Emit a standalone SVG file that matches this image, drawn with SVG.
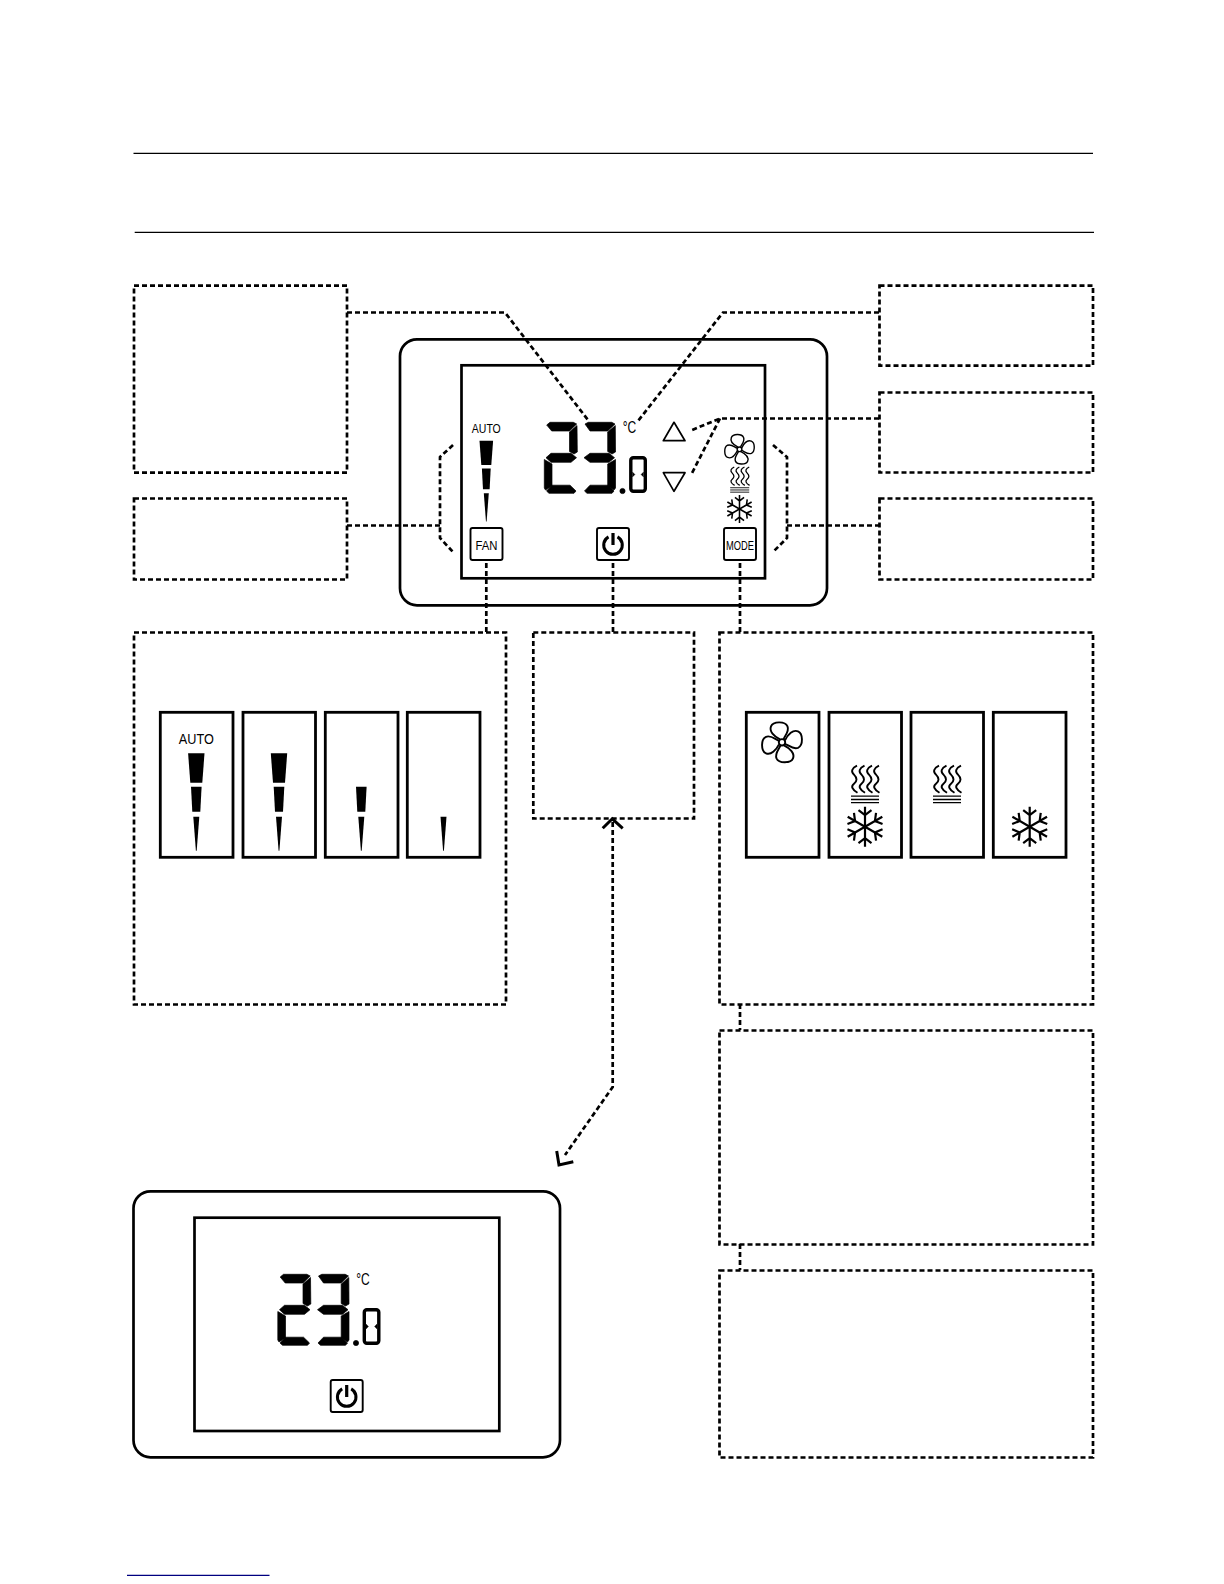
<svg xmlns="http://www.w3.org/2000/svg" width="1224" height="1584" viewBox="0 0 1224 1584">
<style>
.rule{stroke:#000;stroke-width:1.1;fill:none}
.box{fill:none;stroke:#000;stroke-width:2.7;stroke-dasharray:5 3}
.conn{fill:none;stroke:#000;stroke-width:2.7;stroke-dasharray:5 3}
.head{fill:none;stroke:#000;stroke-width:3}
.solid{fill:#fff;stroke:#000;stroke-width:2.7}
.panel{fill:#fff;stroke:#000;stroke-width:2.8}
.key{fill:#fff;stroke:#000;stroke-width:1.9}
.thin{fill:none;stroke:#000;stroke-width:1.7;stroke-linejoin:round}
.lbl{font-family:"Liberation Sans",Arial,sans-serif;fill:#000;text-anchor:middle}
</style>
<defs>
<g id="wedge3"><polygon points="-8.2,0 8.2,0 6,29.4 -6,29.4"/><polygon points="-5.3,33.4 5.3,33.4 4,58.4 -4,58.4"/><polygon points="-3,63.4 3,63.4 .4,97.4 -.4,97.4"/></g>
<g id="wedge2"><polygon points="-5.3,33.4 5.3,33.4 4,58.4 -4,58.4"/><polygon points="-3,63.4 3,63.4 .4,97.4 -.4,97.4"/></g>
<g id="wedge1"><polygon points="-3,63.4 3,63.4 .4,97.4 -.4,97.4"/></g>
<path id="blade" d="M-2,-3 C-8,-6 -13,-11 -11,-16 C-9,-21 3,-21.5 5.5,-16 C7.5,-11 3,-7 1.5,-3"/>
<g id="fan" fill="none" stroke="#000" stroke-width="1.9"><circle r="3.2"/><use href="#blade"/><use href="#blade" transform="rotate(90)"/><use href="#blade" transform="rotate(180)"/><use href="#blade" transform="rotate(270)"/></g>
<g id="heat" fill="none" stroke="#000" stroke-width="1.9"><path d="M3 0 Q-5 4 0 9 T0 18 T3.500 27" transform="translate(-11 0)"/><path d="M3 0 Q-5 4 0 9 T0 18 T3.500 27" transform="translate(-3.500 0)"/><path d="M3 0 Q-5 4 0 9 T0 18 T3.500 27" transform="translate(4 0)"/><path d="M3 0 Q-5 4 0 9 T0 18 T3.500 27" transform="translate(11 0)"/><path d="M-14 30.500H14M-14 33.800H14M-14 37H14" stroke-width="1.300"/></g>
<g id="arm"><path d="M0 0V-20M-6.500 -16.500L0 -11.500L6.500 -16.500"/></g>
<g id="snow" fill="none" stroke="#000" stroke-width="2.200"><use href="#arm"/><use href="#arm" transform="rotate(60)"/><use href="#arm" transform="rotate(120)"/><use href="#arm" transform="rotate(180)"/><use href="#arm" transform="rotate(240)"/><use href="#arm" transform="rotate(300)"/></g>
<g id="power" fill="none" stroke="#000" stroke-width="3"><rect class="key" x="-16" y="-16" width="32" height="32" rx="2"/><path d="M-4.500,-7.100 A9.300,9.300 0 1 0 4.500,-7.100"/><path d="M0 -11V1" stroke-width="3.200"/></g>
<g id="digits" stroke="#000" stroke-width=".7" stroke-linejoin="round">
<polygon points="546.7,425 550,422.3 573.3,422.3 576.7,424 569.5,431 551.7,431"/>
<polygon points="577,425.5 577.3,452 574,454 569.5,451.5 569.5,432"/>
<polygon points="546,457.7 551,453.3 571,453.3 576.5,457.7 571,462.300 551,462.300"/>
<polygon points="544.3,459.5 552,464 552,486 545.5,490 544.3,488"/>
<polygon points="546.5,491 552,485.2 570,485.2 576,491 574,493.3 549,493.3"/>
<polygon points="585,424 588.3,422.3 611.7,422.3 615,424 607.7,431 590,431"/>
<polygon points="615.3,425.5 615.5,452 612,454 607.7,451.5 607.7,432"/>
<polygon points="584,457.7 590,453.3 609,453.3 614.5,457.7 609,462.300 590,462.300"/>
<polygon points="615.5,459.5 615.5,488 614,490 607.7,486 607.7,464"/>
<polygon points="584.5,491 590,485.2 608,485.2 614,491 612,493.3 587,493.3"/>
<circle cx="622.5" cy="491" r="2.6"/>
<rect x="630.800" y="457.800" width="14.500" height="33.500" rx="2.500" fill="none" stroke-width="3.400"/>
<polygon points="632.500,472 635,474.500 632.500,477" stroke-width=".3"/><polygon points="643.500,472 641,474.500 643.500,477" stroke-width=".3"/>
</g>
</defs>
<line class="rule" x1="133.500" y1="153.400" x2="1093" y2="153.400"/>
<line class="rule" x1="134.700" y1="232.400" x2="1094" y2="232.400"/>
<line x1="127" y1="1575.300" x2="269.500" y2="1575.300" stroke="#000080" stroke-width="1.300"/>

<g id="note-temp"><rect class="box" x="134" y="285.600" width="213" height="187"/></g>
<g id="note-fan-level"><rect class="box" x="134" y="498.500" width="213" height="81"/></g>
<g id="note-degree"><rect class="box" x="879.500" y="285.600" width="213.500" height="80"/></g>
<g id="note-arrows"><rect class="box" x="879.500" y="392.500" width="213.500" height="80"/></g>
<g id="note-mode-icons"><rect class="box" x="879.500" y="498.500" width="213.500" height="81"/></g>

<g id="device-on">
<rect class="solid" x="400" y="339.300" width="427" height="266" rx="17"/>
<rect class="solid" x="461.500" y="365.300" width="303.500" height="213"/>
<text class="lbl" x="486.300" y="432.700" font-size="13" textLength="29" lengthAdjust="spacingAndGlyphs">AUTO</text>
<use href="#wedge3" transform="translate(486.300 440.700) scale(.83)"/>
<use href="#digits"/>
<text class="lbl" x="629.500" y="433" font-size="16" textLength="13.500" lengthAdjust="spacingAndGlyphs">°C</text>
<polygon class="thin" points="663.300,440.700 685,440.700 674,422.300"/>
<polygon class="thin" points="663.300,472.700 685,472.700 674,491.300"/>
<use href="#fan" transform="translate(739.500 449.300) scale(.74)"/>
<use href="#heat" transform="translate(739.700 467) scale(.68)"/>
<use href="#snow" transform="translate(739.500 509) scale(.7)"/>
<g id="key-fan"><rect class="key" x="470.500" y="528" width="32" height="32" rx="2"/><text class="lbl" x="486.500" y="550" font-size="13" textLength="22" lengthAdjust="spacingAndGlyphs">FAN</text></g>
<use id="key-power" href="#power" transform="translate(613 544)"/>
<g id="key-mode"><rect class="key" x="724" y="528" width="32" height="32" rx="2"/><text class="lbl" x="740" y="550" font-size="13" textLength="28" lengthAdjust="spacingAndGlyphs">MODE</text></g>
</g>

<g id="note-fan"><rect class="box" x="134" y="632.500" width="372" height="372"/>
<rect class="panel" x="160.300" y="712.300" width="72.700" height="145"/>
<rect class="panel" x="243" y="712.300" width="72.500" height="145"/>
<rect class="panel" x="325.300" y="712.300" width="72.700" height="145"/>
<rect class="panel" x="407.300" y="712.300" width="72.700" height="145"/>
<text class="lbl" x="196.300" y="744.300" font-size="15" textLength="35" lengthAdjust="spacingAndGlyphs">AUTO</text>
<use href="#wedge3" transform="translate(196.300 753.300)"/>
<use href="#wedge3" transform="translate(279 753.300)"/>
<use href="#wedge2" transform="translate(361.300 753.300)"/>
<use href="#wedge1" transform="translate(443.500 753.300)"/>
</g>
<g id="note-power"><rect class="box" x="533.300" y="632.500" width="160.700" height="186"/></g>
<g id="note-mode"><rect class="box" x="719.500" y="632.500" width="373.500" height="372"/>
<rect class="panel" x="746.300" y="712.300" width="72.700" height="145"/>
<rect class="panel" x="829" y="712.300" width="72.500" height="145"/>
<rect class="panel" x="911" y="712.300" width="72.500" height="145"/>
<rect class="panel" x="993.300" y="712.300" width="72.700" height="145"/>
<use href="#fan" transform="translate(782 742.300)"/>
<use href="#heat" transform="translate(865 765.700)"/>
<use href="#snow" transform="translate(865 826.700)"/>
<use href="#heat" transform="translate(947 765.700)"/>
<use href="#snow" transform="translate(1029.700 826.700)"/>
</g>
<g id="note-a"><rect class="box" x="719.500" y="1030.500" width="373.500" height="214"/></g>
<g id="note-b"><rect class="box" x="719.500" y="1270.500" width="373.500" height="187"/></g>

<g id="device-off">
<rect class="solid" x="133.500" y="1191.300" width="426.500" height="266" rx="17"/>
<rect class="solid" x="194.500" y="1217.700" width="304.800" height="213.300"/>
<use href="#digits" transform="translate(-266.500 852)"/>
<text class="lbl" x="363" y="1285" font-size="16" textLength="13.500" lengthAdjust="spacingAndGlyphs">°C</text>
<use id="key-power-2" href="#power" transform="translate(346.700 1396)"/>
</g>

<g id="connectors">
<path class="conn" d="M347 312.500H505L588 420"/>
<path class="conn" d="M879 312.500H723L638 421"/>
<path class="conn" d="M879 418.500H720L692 430"/>
<path class="conn" d="M720 418.500L692 473"/>
<path class="conn" d="M453 445L440 457V538L453 552"/>
<path class="conn" d="M347 525.500H440"/>
<path class="conn" d="M773 445L787 457V538L773 552"/>
<path class="conn" d="M787 525.500H879"/>
<path class="conn" d="M486.300 563V632"/>
<path class="conn" d="M613 563V632"/>
<path class="conn" d="M740 563V632"/>
<path class="conn" d="M740 1004V1030"/>
<path class="conn" d="M740 1244V1270"/>
<path class="conn" d="M612.700 822V1087L565 1155"/>
<path class="head" d="M602.700 828.300L612.300 818.800L622.700 828.300"/>
<path class="head" d="M556.700 1151L559 1165L573.300 1161.700"/>
</g>
</svg>
